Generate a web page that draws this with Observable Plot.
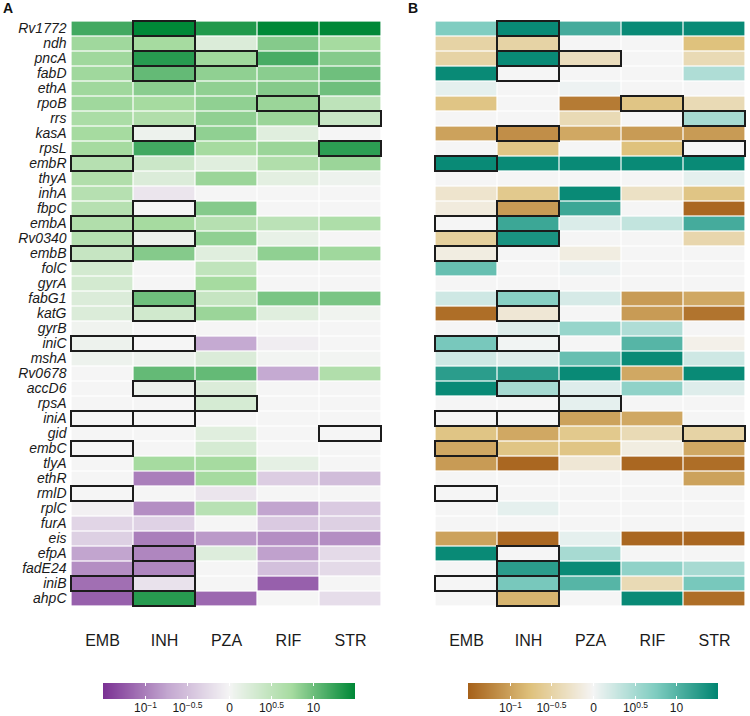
<!DOCTYPE html>
<html><head><meta charset="utf-8">
<script src="https://cdn.jsdelivr.net/npm/d3@7"></script>
<script src="https://cdn.jsdelivr.net/npm/@observablehq/plot@0.6"></script>
<style>
body{margin:0;background:#fff;}
#wrap{position:relative;width:750px;height:716px;overflow:hidden;font-family:"Liberation Sans",Arial,sans-serif;background:#fff;}
#wrap > svg, #wrap > div{position:absolute;}
.panel-label{font-weight:bold;font-size:14px;line-height:1;color:#111;}
</style></head><body><div id="wrap"></div>
<script>
const genes = ["Rv1772","ndh","pncA","fabD","ethA","rpoB","rrs","kasA","rpsL","embR","thyA","inhA","fbpC","embA","Rv0340","embB","folC","gyrA","fabG1","katG","gyrB","iniC","mshA","Rv0678","accD6","rpsA","iniA","gid","embC","tlyA","ethR","rmlD","rplC","furA","eis","efpA","fadE24","iniB","ahpC"];
const drugs = ["EMB","INH","PZA","RIF","STR"];

// Panel A values (legend units: -2 = 10^-1, -1 = 10^-0.5, 0, 1 = 10^0.5, 2 = 10)
const A_EMB = [2.4,1.55,1.55,1.55,1.55,1.55,1.4,1.5,1.5,1.2,1.3,1.2,1.2,1.3,1.2,0.9,0.65,0.65,0.5,0.5,0.1,0.15,0.15,0,0,0,0,0,0,0,0,0,-0.1,-0.6,-0.7,-1.5,-1.8,-2.2,-2.4];
const A_INH = [3.0,1.5,2.65,2.1,1.75,1.5,1.3,0.15,2.4,0.8,0.5,-0.3,0,1.5,0.15,1.8,0,0,2.0,0.7,0,0,0.15,2.1,0.15,0,0,0,0,1.5,-2.0,0,-1.8,-0.65,-2.0,-1.9,-1.9,-0.35,2.65];
const A_PZA = [2.7,0.5,1.55,1.7,1.7,1.7,1.7,1.7,1.5,0.4,1.6,0,1.8,1.2,1.7,0.4,1.0,1.5,0.9,1.6,0,-1.4,0.5,2.1,0.5,0.6,0,0.4,0.6,1.5,1.5,-0.3,1.15,0,-1.65,0.45,0,0,-2.3];
const A_RIF = [3.0,1.8,2.35,1.75,1.8,1.6,1.6,0.4,1.6,1.3,0.35,0,0,1.1,0.25,1.7,0,0,1.9,0.4,0,-0.15,0.05,-1.4,0,0,0,0,0,0.3,-0.75,0,-1.5,-0.8,-1.8,-1.55,-1.0,-2.4,0];
const A_STR = [3.0,1.5,1.8,2.0,2.0,1.05,0.85,0,2.6,1.6,0.15,0,0,1.35,0,1.55,0,0,1.9,0.1,0,0,0.05,1.3,0,0,0,0,0,0,-1.05,0,-0.8,-0.7,-1.8,-0.5,-0.5,0,-0.45];

// Panel B values
const B_EMB = [1.5,-1.0,-1.0,2.9,0.2,-1.4,0,-2.0,0,2.9,0,-0.5,-0.3,0,-1.1,-0.25,1.8,0,0.5,-2.8,0,1.6,0.5,2.5,2.9,0,0,-1.4,-1.9,-2.1,0,0,0,0,-2.0,2.9,0,0,0];
const B_INH = [2.9,-1.0,2.9,0,0,0,0,-2.3,-1.4,2.9,0,-1.3,-2.1,2.3,2.7,0,0,0,1.4,-0.4,0.3,0.05,0.3,2.5,1.0,0,0,-1.9,-1.4,-2.9,0,0,0.2,0,-2.9,0,2.5,1.6,-1.7];
const B_PZA = [2.2,0,-0.7,0,0.1,-2.6,-0.8,-1.9,0,2.9,0,2.9,2.3,0.35,0,-0.25,0.1,0,0.4,0,1.2,0,1.8,2.9,0.3,0.2,-2.0,-1.3,-1.4,-0.4,0,0,0,0,0.2,1.0,2.9,2.0,0];
const B_RIF = [2.9,0,0,0,0,-1.4,0,-2.1,-1.5,2.9,0,-0.6,0,0.65,0,0,0,0,-2.1,-2.1,0.9,2.0,2.9,-1.9,1.3,0,-1.9,-0.8,-0.25,-2.9,0,0,0,0,-2.9,0,1.3,-0.8,2.9];
const B_STR = [2.9,-1.5,-0.8,0.9,0,-0.8,1.0,-2.1,0,2.9,0.2,-1.4,-2.9,2.2,-0.9,0,0,0,-1.9,-2.7,0,-0.15,0.5,2.9,0.3,0,0,-1.0,-1.9,-2.8,-2.0,0,0,0,-2.9,0,1.0,1.6,-2.8];

// Outlined cells (same in both panels)
const boxGenes = ["Rv1772","ndh","pncA","pncA","fabD","rpoB","rrs","kasA","rpsL","embR","fbpC","embA","Rv0340","embB","fabG1","katG","iniC","iniC","accD6","rpsA","iniA","iniA","gid","embC","rmlD","efpA","fadE24","iniB","iniB","ahpC"];
const boxDrugs = ["INH","INH","INH","PZA","INH","RIF","STR","INH","STR","EMB","INH","EMB","INH","EMB","INH","INH","EMB","INH","INH","PZA","EMB","INH","STR","EMB","EMB","INH","INH","EMB","INH","INH"];

// Colour scales
const colorDomain = [-3,-1.5,0,1.5,3];
const colorsA = ["#7b3294","#c2a5cf","#f5f5f5","#a6dba0","#008837"];
const colorsB = ["#a6611a","#dfc27d","#f5f5f5","#80cdc1","#018571"];
const legendTicks = [-2,-1,0,1,2];
const legendLabels = ["10^\u22121","10^\u22120.5","0","10^0.5","10"];

const FONT = '"Liberation Sans", Arial, sans-serif';
const wrap = document.getElementById("wrap");

function heat(cols, colors, showY, width) {
  const data = [];
  genes.forEach((g,i) => drugs.forEach((d,j) => data.push({gene:g, drug:d, v: cols[j][i]})));
  const boxes = boxGenes.map((g,i) => ({gene:g, drug:boxDrugs[i]}));
  const marks = [
    Plot.cell(data, {x:"drug", y:"gene", fill:"v", inset:0.6}),
    Plot.cell(boxes, {x:"drug", y:"gene", fill:"none", stroke:"#1c1c1c", strokeWidth:2}),
    Plot.axisX({tickSize:0, tickPadding:24, fontSize:16, label:null})
  ];
  if (showY) marks.push(Plot.axisY({tickSize:0, tickPadding:4, fontSize:14, fontStyle:"italic", label:null}));
  return Plot.plot({
    width, height:655, marginLeft:70, marginRight:3, marginTop:17, marginBottom:45,
    style:{fontFamily:FONT, color:"#1a1a1a", background:"transparent"},
    x:{domain:drugs, padding:0},
    y:{domain:genes, padding:0, axis:null},
    color:{type:"linear", domain:colorDomain, range:colors, interpolate:"rgb", clamp:true},
    marks
  });
}

function legend(colors, width) {
  const el = Plot.legend({
    color:{type:"linear", domain:colorDomain, range:colors, interpolate:"rgb"},
    width, height:48, marginTop:15, marginBottom:17, marginLeft:0, marginRight:0,
    tickSize:0, ticks:legendTicks,
    tickFormat:(d) => legendLabels[legendTicks.indexOf(d)],
    style:{fontFamily:FONT, fontSize:"12px", color:"#1a1a1a", background:"transparent", overflow:"visible"}
  });
  el.querySelectorAll(".tick line").forEach(l => {
    l.setAttribute("stroke","#ffffff");
    l.setAttribute("stroke-dasharray","3,10,3");
  });
  const ns = "http://www.w3.org/2000/svg";
  el.querySelectorAll(".tick text").forEach(t => {
    t.setAttribute("y", 4);
    const s = t.textContent;
    if (s.includes("^")) {
      const [b,e] = s.split("^");
      t.textContent = "";
      const t1 = document.createElementNS(ns,"tspan"); t1.textContent = b; t.appendChild(t1);
      const t2 = document.createElementNS(ns,"tspan"); t2.textContent = e;
      t2.setAttribute("dy","-0.45em"); t2.setAttribute("font-size","8.5px");
      t.appendChild(t2);
    }
  });
  return el;
}

const pA = heat([A_EMB,A_INH,A_PZA,A_RIF,A_STR], colorsA, true, 385);
pA.style.left = "0px"; pA.style.top = "0px";
wrap.appendChild(pA);

const pB = heat([B_EMB,B_INH,B_PZA,B_RIF,B_STR], colorsB, false, 387);
pB.style.left = "363px"; pB.style.top = "0px";
wrap.appendChild(pB);

const lA = legend(colorsA, 252);
lA.style.position = "absolute"; lA.style.left = "103px"; lA.style.top = "668px";
wrap.appendChild(lA);

const lB = legend(colorsB, 250);
lB.style.position = "absolute"; lB.style.left = "468px"; lB.style.top = "668px";
wrap.appendChild(lB);

const labA = document.createElement("div");
labA.className = "panel-label"; labA.textContent = "A";
labA.style.left = "3px"; labA.style.top = "1px";
wrap.appendChild(labA);
const labB = document.createElement("div");
labB.className = "panel-label"; labB.textContent = "B";
labB.style.left = "408px"; labB.style.top = "1px";
wrap.appendChild(labB);
</script></body></html>
